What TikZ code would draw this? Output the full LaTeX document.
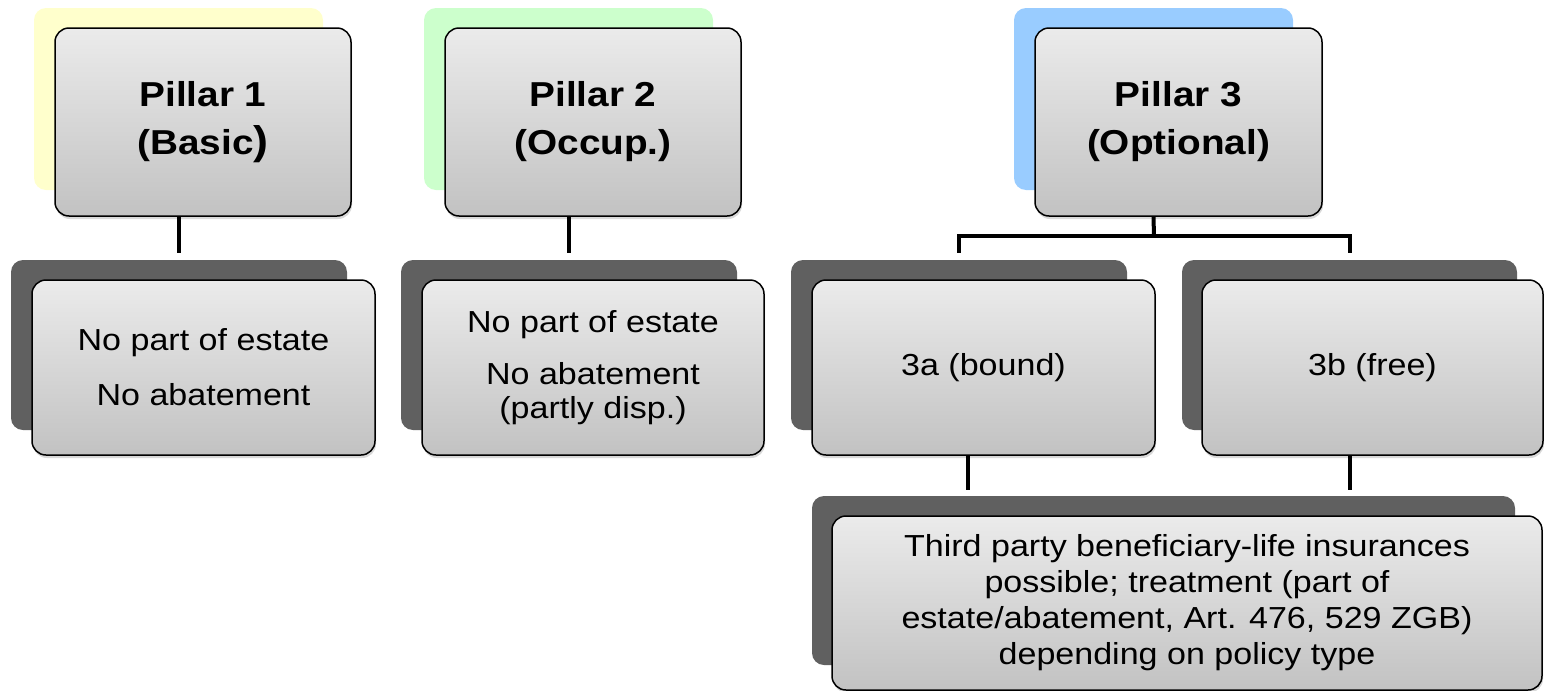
\documentclass[tikz,border=0pt]{standalone}
\usepackage{fontspec}
\setmainfont[FakeStretch=1.12]{Liberation Sans}
\usepackage{tikz}
\usetikzlibrary{shadows}

\definecolor{boxtop}{HTML}{EBEBEB}
\definecolor{boxbot}{HTML}{C2C2C2}
\definecolor{backyellow}{HTML}{FFFFCC}
\definecolor{backgreen}{HTML}{CCFFCC}
\definecolor{backblue}{HTML}{99CCFF}
\definecolor{backgray}{HTML}{606060}

\tikzset{
  backbox/.style={fill=#1, rounded corners=6pt, inner sep=0pt},
  frontbox/.style={draw=black, line width=0.75pt, rounded corners=7pt,
    top color=boxtop, bottom color=boxbot, align=center, inner sep=0pt,
    drop shadow={shadow xshift=0.5pt, shadow yshift=-1.5pt, opacity=0.3}},
  pillartext/.style={font=\fontsize{17.3}{24}\selectfont\bfseries},
  leaftext/.style={font=\fontsize{15.2}{17}\selectfont}
  ,link/.style={line width=2pt, line join=miter}
}

\begin{document}
\begin{tikzpicture}[x=0.5pt, y=-0.5pt]
      \useasboundingbox (0,0) rectangle (1544,691);

      % pillars
      \node[backbox=backyellow, minimum width=144.5pt, minimum height=91pt] (p1back) at (178.5,99) {};
      \node[backbox=backgreen, minimum width=144.5pt, minimum height=91pt] (p2back) at (568.5,99) {};
      \node[backbox=backblue, minimum width=139.5pt, minimum height=91pt] (p3back) at (1153.5,99) {};

      \node[frontbox, pillartext, minimum width=148pt, minimum height=94pt] (p1) at (203,122)
        {Pillar 1\\(Basic{\fontsize{20}{24}\selectfont )}};
      \node[frontbox, pillartext, minimum width=148pt, minimum height=94pt] (p2) at (593,122)
        {Pillar 2\\(Occup.)};
      \node[frontbox, pillartext, minimum width=143.5pt, minimum height=94pt] (p3) at (1178.5,122)
        {Pillar 3\\(Optional)};

      % second row
      \node[backbox=backgray, minimum width=168pt, minimum height=85pt] (b1back) at (179,345) {};
      \node[backbox=backgray, minimum width=168pt, minimum height=85pt] (b2back) at (569,345) {};
      \node[backbox=backgray, minimum width=168pt, minimum height=85pt] (aback) at (959,345) {};
      \node[backbox=backgray, minimum width=167.5pt, minimum height=85pt] (bback) at (1349.5,345) {};

      \node[frontbox, leaftext, minimum width=171.5pt, minimum height=87.5pt] (b1) at (203.5,367.5)
        {No part of estate\\[10.5pt]No abatement};
      \node[frontbox, leaftext, minimum width=171pt, minimum height=87.5pt] (b2) at (593,367.5)
        {No part of estate\\[9pt]No abatement\\(partly disp.)};
      \node[frontbox, leaftext, minimum width=171.5pt, minimum height=87.5pt] (a) at (983.5,367.5)
        {3a (bound)};
      \node[frontbox, leaftext, minimum width=170.5pt, minimum height=87.5pt] (b) at (1372.5,367.5)
        {3b (free)};

      % third row
      \node[backbox=backgray, minimum width=351.5pt, minimum height=84.5pt] (tback) at (1163.5,580.5) {};
      \node[frontbox, leaftext, font=\fontsize{15.2}{18}\selectfont, minimum width=355pt, minimum height=87pt] (t) at (1187,603)
        {Third party beneficiary-life insurances\\possible; treatment (part of\\estate/abatement, Art. 476, 529 ZGB)\\depending on policy type};

      % connectors
      \coordinate (fork) at (1154,236);
      \coordinate (adrop) at (968,490);
      \draw[link] (p1back.center |- p1.south) -- ([yshift=3.5pt]p1back.center |- b1back.north);
      \draw[link] (p2back.center |- p2.south) -- ([yshift=3.5pt]p2back.center |- b2back.north);
      \draw[link] (p3back.center |- p3.south) -- (fork);
      \draw[link] ([yshift=3.5pt]aback.north) |- (fork) -| ([yshift=3.5pt]bback.north);
      \draw[link] (a.south -| adrop) -- (adrop);
      \draw[link] (bback.center |- b.south) -- ([yshift=3pt]bback.center |- tback.north);
    \end{tikzpicture}
\end{document}
